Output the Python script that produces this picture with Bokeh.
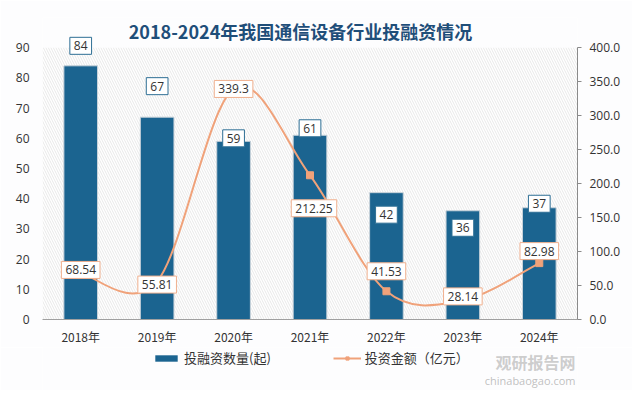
import numpy as np
from bokeh.plotting import figure
from bokeh.layouts import column
from bokeh.models import (Range1d, LinearAxis, FixedTicker, NumeralTickFormatter, ColumnDataSource,
                          Label, Legend, LegendItem, BoxAnnotation)
from bokeh.embed import file_html
from bokeh.resources import INLINE

title = "2018-2024年我国通信设备行业投融资情况"
years = ["2018年", "2019年", "2020年", "2021年", "2022年", "2023年", "2024年"]
counts = [84, 67, 59, 61, 42, 36, 37]
amounts = [68.54, 55.81, 339.3, 212.25, 41.53, 28.14, 82.98]
count_labels = ["84", "67", "59", "61", "42", "36", "37"]
amount_labels = ["68.54", "55.81", "339.3", "212.25", "41.53", "28.14", "82.98"]
series_names = ["投融资数量(起)", "投资金额（亿元）"]

# label placement (screen px, +up)
count_off = [20, 31, 3, 7, -22, -17, 4]
amount_off_y = [3, -3, 0, -33, 20, 4, 12]
amount_off_x = [0, 0, 0, 4, 0, 0, 0]

BLUE = "#1b6490"
ORANGE = "#f0a27a"
CJK = "Noto Sans CJK SC"
BG = "#fdfdfe"

xs = list(range(len(years)))
YMAX = 100  # headroom above 90 for the title and top labels

p = figure(width=632, height=347, output_backend="svg", toolbar_location=None,
           x_range=Range1d(-0.5, 6.5), y_range=Range1d(0, YMAX),
           min_border_left=42, min_border_right=55, min_border_top=17, min_border_bottom=27)
p.extra_y_ranges = {"amt": Range1d(0, YMAX * 400 / 90)}
p.outline_line_color = None
p.border_fill_color = BG
p.background_fill_color = BG
p.xgrid.grid_line_color = None
p.ygrid.grid_line_color = None

# hatched plot background
p.add_layout(BoxAnnotation(left=-0.5, right=6.5, bottom=0, top=90, fill_color="white", fill_alpha=1,
                           line_color=None, hatch_pattern="\\", hatch_color="#d4d4d4",
                           hatch_scale=5, hatch_weight=0.6, hatch_alpha=0.9, level="underlay"))

# axes
p.xaxis.ticker = FixedTicker(ticks=xs)
p.xaxis.major_label_overrides = {i: y for i, y in zip(xs, years)}
p.xaxis.axis_line_color = "#a0a0a0"
p.xaxis.major_tick_line_color = None
p.xaxis.minor_tick_line_color = None
p.xaxis.major_label_text_font = CJK
p.xaxis.major_label_text_font_size = "12px"
p.xaxis.major_label_text_color = "#333333"
p.xaxis.major_label_standoff = 2

p.yaxis.ticker = FixedTicker(ticks=list(range(0, 91, 10)))
p.yaxis.axis_line_color = None
p.yaxis.major_tick_line_color = None
p.yaxis.minor_tick_line_color = None
p.yaxis.major_label_text_font = "Open Sans"
p.yaxis.major_label_text_font_size = "12px"
p.yaxis.major_label_text_color = "#333333"
p.yaxis.major_label_standoff = 7

ra = LinearAxis(y_range_name="amt", ticker=FixedTicker(ticks=list(range(0, 401, 50))),
                formatter=NumeralTickFormatter(format="0.0"), bounds=(0, 400))
ra.axis_line_color = "#8a8a8a"
ra.major_tick_line_color = "#8a8a8a"
ra.major_tick_out = 4
ra.major_tick_in = 0
ra.minor_tick_line_color = None
ra.major_label_text_font = "Open Sans"
ra.major_label_text_font_size = "12px"
ra.major_label_text_color = "#333333"
ra.major_label_standoff = 8
p.add_layout(ra, "right")

src = ColumnDataSource(dict(x=xs, c=counts, a=amounts))

p.vbar(x="x", top="c", width=0.44, source=src, fill_color=BLUE,
       line_color="#c8d2da", line_width=1)

# smoothed line (Catmull-Rom style bezier through data points)
P = np.array(amounts, dtype=float)
X = np.array(xs, dtype=float)
n = len(P)
x0, y0, x1, y1, cx0, cy0, cx1, cy1 = [], [], [], [], [], [], [], []
for i in range(n - 1):
    ia, ib = max(i - 1, 0), min(i + 2, n - 1)
    x0.append(X[i]); y0.append(P[i]); x1.append(X[i + 1]); y1.append(P[i + 1])
    cx0.append(X[i] + (X[i + 1] - X[ia]) / 6); cy0.append(P[i] + (P[i + 1] - P[ia]) / 6)
    cx1.append(X[i + 1] - (X[ib] - X[i]) / 6); cy1.append(P[i + 1] - (P[ib] - P[i]) / 6)
p.bezier(x0=x0, y0=y0, x1=x1, y1=y1, cx0=cx0, cy0=cy0, cx1=cx1, cy1=cy1,
         line_color=ORANGE, line_width=2, y_range_name="amt")
p.scatter(x="x", y="a", source=src, marker="square", size=7, fill_color=ORANGE,
          line_color=ORANGE, y_range_name="amt")

# value labels
for i in xs:
    p.add_layout(Label(x=xs[i], y=counts[i], text=count_labels[i], y_offset=count_off[i],
                       text_align="center", text_baseline="middle", text_font="Open Sans",
                       text_font_size="12px", text_color="#333333",
                       background_fill_color="white", border_line_color="#2e6f95",
                       border_line_width=1, padding=4))
    p.add_layout(Label(x=xs[i], y=amounts[i], text=amount_labels[i], y_offset=amount_off_y[i],
                       x_offset=amount_off_x[i], y_range_name="amt",
                       text_align="center", text_baseline="middle", text_font="Open Sans",
                       text_font_size="12px", text_color="#333333",
                       background_fill_color="white", border_line_color="#f0b08e",
                       border_line_width=1, padding=4))

# title
p.add_layout(Label(x=2.876, y=95.6, text=title, text_align="center", text_baseline="middle",
                   text_font=CJK, text_font_size="18px", text_font_style="bold",
                   text_color="#1f4e79"))

# legend strip (separate small figure under the chart; its frame aligns with the chart's)
q = figure(width=632, height=43, output_backend="svg", toolbar_location=None,
           x_range=Range1d(0, 535), y_range=Range1d(0, 43),
           min_border_left=42, min_border_right=55, min_border_top=0, min_border_bottom=0,
           x_axis_type=None, y_axis_type=None)
q.outline_line_color = None
q.border_fill_color = BG
q.background_fill_color = BG
q.xgrid.grid_line_color = None
q.ygrid.grid_line_color = None
lb = q.vbar(x=[0], top=[1], width=1, fill_color=BLUE, line_color=None, visible=False)
ll = q.line([0, 1], [0, 0], line_color=ORANGE, line_width=2, visible=False)
lm = q.scatter([0], [0], marker="square", size=7, fill_color=ORANGE, line_color=ORANGE, visible=False)
legend = Legend(items=[LegendItem(label=series_names[0], renderers=[lb]),
                       LegendItem(label=series_names[1], renderers=[ll, lm])],
                orientation="horizontal", location=(110, 23), spacing=62,
                label_text_font=CJK, label_text_font_size="13px", label_text_color="#333333",
                border_line_color=None, background_fill_alpha=0, glyph_width=28,
                glyph_height=8, padding=2, margin=0, label_standoff=4)
q.add_layout(legend, "center")

# watermark
q.add_layout(Label(x=533, y=29, text="观研报告网", text_align="right", text_baseline="middle",
                   text_font=CJK, text_font_size="16px", text_font_style="bold",
                   text_color="#b8b8b8", text_alpha=0.7))
q.add_layout(Label(x=533, y=10, text="chinabaogao.com", text_align="right", text_baseline="middle",
                   text_font="Open Sans", text_font_size="11px", text_color="#b0b0b0", text_alpha=0.8))

layout = column(p, q, spacing=0)
open("out.html", "w").write(file_html(layout, INLINE))
